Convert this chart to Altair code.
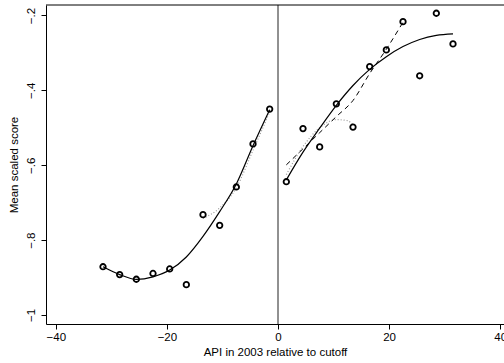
import altair as alt
import pandas as pd

# Binned means (points)
bins_left = [-31.5, -28.5, -25.5, -22.5, -19.5, -16.5, -13.5, -10.5, -7.5, -4.5, -1.5]
means_left = [-0.871, -0.892, -0.9045, -0.889, -0.877, -0.919, -0.732, -0.7605, -0.658, -0.543, -0.450]
bins_right = [1.5, 4.5, 7.5, 10.5, 13.5, 16.5, 19.5, 22.5, 25.5, 28.5, 31.5]
means_right = [-0.644, -0.502, -0.551, -0.436, -0.498, -0.3365, -0.292, -0.2165, -0.361, -0.194, -0.276]

# Solid fitted curves
fit_left = [-0.871, -0.892, -0.905, -0.898, -0.880, -0.845, -0.790, -0.724, -0.650, -0.548, -0.452]
fit_right = [-0.639, -0.565, -0.501, -0.440, -0.387, -0.344, -0.310, -0.283, -0.264, -0.253, -0.249]

# Dashed line (right side)
dash_x = [1.5, 4.5, 7.5, 10.5, 13.5, 16.5, 19.5, 22.5]
dash_y = [-0.599, -0.556, -0.513, -0.470, -0.427, -0.355, -0.290, -0.218]

# Dotted lines
dot_left_x = [-13.5, -10.5, -7.5, -4.5, -1.5]
dot_left_y = [-0.742, -0.714, -0.660, -0.560, -0.458]
dot_right_x = [1.5, 4.5, 7.5, 10.5, 12.5, 13.5]
dot_right_y = [-0.625, -0.550, -0.500, -0.478, -0.481, -0.492]

cutoff = [0]

x_ticks = [-40, -20, 0, 20, 40]
y_ticks = [-1, -0.8, -0.6, -0.4, -0.2]

FONT = "Liberation Sans"

pts = pd.DataFrame({"x": bins_left + bins_right, "y": means_left + means_right})
solid = pd.DataFrame({
    "x": bins_left + bins_right,
    "y": fit_left + fit_right,
    "side": ["L"] * len(bins_left) + ["R"] * len(bins_right),
})
dashed = pd.DataFrame({"x": dash_x, "y": dash_y})
dotted = pd.DataFrame({
    "x": dot_left_x + dot_right_x,
    "y": dot_left_y + dot_right_y,
    "side": ["L"] * len(dot_left_x) + ["R"] * len(dot_right_x),
})
cut = pd.DataFrame({"x": cutoff})

xscale = alt.Scale(domain=[-41.76, 40.68], nice=False, zero=False)
yscale = alt.Scale(domain=[-1.024, -0.172], nice=False, zero=False)

xenc = alt.X(
    "x:Q", scale=xscale,
    axis=alt.Axis(
        title="API in 2003 relative to cutoff", values=x_ticks, format="d",
        grid=False, domainColor="black", tickColor="black", tickSize=5,
        labelColor="black", labelFont=FONT, labelFontSize=11.5,
        titleFont=FONT, titleFontSize=11.5, titleFontWeight="normal",
        titleColor="black", labelPadding=2, titlePadding=4,
        labelFlush=False, labelOverlap=False,
    ),
)
yenc = alt.Y(
    "y:Q", scale=yscale,
    axis=alt.Axis(
        title="Mean scaled score", values=y_ticks,
        labelExpr="datum.value == -1 ? '\u22121' : replace(format(datum.value, '.1f'), '0.', '.')",
        grid=False, domainColor="black", tickColor="black", tickSize=5,
        labelColor="black", labelFont=FONT, labelFontSize=11.5,
        labelAngle=270, labelAlign="center", labelBaseline="bottom",
        labelPadding=5,
        titleFont=FONT, titleFontSize=11.5, titleFontWeight="normal",
        titleColor="black", titlePadding=6,
        labelFlush=False, labelOverlap=False,
    ),
)

top_frame = alt.Chart(cut).mark_rule(color="black", strokeWidth=1).encode(
    x=alt.value(0), x2=alt.value(458), y=alt.value(0)
)

cut_line = alt.Chart(cut).mark_rule(color="#222222", strokeWidth=1).encode(
    x=alt.X("x:Q", scale=xscale)
)

dotted_layer = alt.Chart(dotted).mark_line(
    color="#9a9a9a", strokeWidth=1.2, strokeDash=[1, 2], interpolate="monotone"
).encode(x=xenc, y=yenc, detail="side:N")

dashed_layer = alt.Chart(dashed).mark_line(
    color="black", strokeWidth=1, strokeDash=[5, 4], interpolate="monotone"
).encode(x=xenc, y=yenc)

solid_layer = alt.Chart(solid).mark_line(
    color="black", strokeWidth=1.2, interpolate="monotone"
).encode(x=xenc, y=yenc, detail="side:N")

points_layer = alt.Chart(pts).mark_point(
    shape="circle", filled=False, color="black", strokeWidth=1.8, size=30, opacity=1
).encode(x=xenc, y=yenc)

chart = alt.layer(
    cut_line, dotted_layer, dashed_layer, solid_layer, points_layer, top_frame
).properties(
    width=458, height=319,
    autosize=alt.AutoSizeParams(type="none"),
    padding={"left": 46, "top": 5, "right": 0, "bottom": 39},
    background="white",
).configure_view(stroke=None)

chart.save("out.html", embed_options={"renderer": "svg", "actions": False})
